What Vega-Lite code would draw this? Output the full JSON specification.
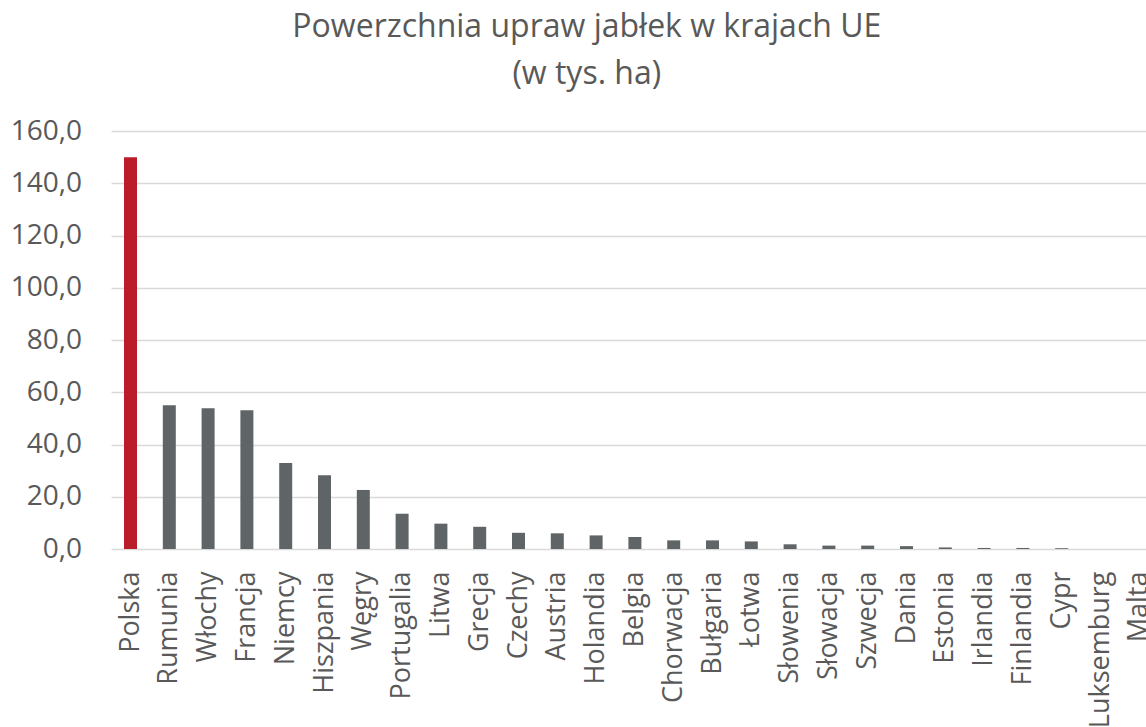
{
  "$schema": "https://vega.github.io/schema/vega-lite/v6.json",
  "autosize": {"type": "none"},
  "padding": {"left": 105.6, "top": 131, "right": 0, "bottom": 178},
  "width": 1040.4,
  "height": 418,
  "background": "white",
  "title": {
    "text": ["Powerzchnia upraw jabłek w krajach UE", "(w tys. ha)"],
    "anchor": "middle",
    "frame": "group",
    "dx": -39,
    "offset": 26,
    "font": "Open Sans",
    "fontSize": 32,
    "fontWeight": "normal",
    "color": "#595959",
    "lineHeight": 47
  },
  "data": {
    "values": [
      {"kraj": "Polska", "ha": 150.0},
      {"kraj": "Rumunia", "ha": 55.0},
      {"kraj": "Włochy", "ha": 53.9},
      {"kraj": "Francja", "ha": 53.1},
      {"kraj": "Niemcy", "ha": 32.9},
      {"kraj": "Hiszpania", "ha": 28.2},
      {"kraj": "Węgry", "ha": 22.6},
      {"kraj": "Portugalia", "ha": 13.5},
      {"kraj": "Litwa", "ha": 9.7},
      {"kraj": "Grecja", "ha": 8.5},
      {"kraj": "Czechy", "ha": 6.2},
      {"kraj": "Austria", "ha": 6.0},
      {"kraj": "Holandia", "ha": 5.2},
      {"kraj": "Belgia", "ha": 4.6},
      {"kraj": "Chorwacja", "ha": 3.3},
      {"kraj": "Bułgaria", "ha": 3.3},
      {"kraj": "Łotwa", "ha": 2.9},
      {"kraj": "Słowenia", "ha": 1.8},
      {"kraj": "Słowacja", "ha": 1.3},
      {"kraj": "Szwecja", "ha": 1.3},
      {"kraj": "Dania", "ha": 1.1},
      {"kraj": "Estonia", "ha": 0.6},
      {"kraj": "Irlandia", "ha": 0.4},
      {"kraj": "Finlandia", "ha": 0.4},
      {"kraj": "Cypr", "ha": 0.3},
      {"kraj": "Luksemburg", "ha": 0.0},
      {"kraj": "Malta", "ha": 0.0}
    ]
  },
  "mark": {"type": "bar"},
  "encoding": {
    "x": {
      "field": "kraj",
      "type": "nominal",
      "sort": null,
      "scale": {"paddingInner": 0.665, "paddingOuter": 0.3325, "range": [5.5, 1053.1]},
      "axis": {
        "title": null,
        "labelAngle": -90,
        "labelPadding": 22,
        "labelFont": "Open Sans",
        "labelFontSize": 27,
        "labelColor": "#595959",
        "ticks": false,
        "domain": false,
        "labelOverlap": false,
        "labelBound": false
      }
    },
    "y": {
      "field": "ha",
      "type": "quantitative",
      "scale": {"domain": [0, 160]},
      "axis": {
        "title": null,
        "values": [0, 20, 40, 60, 80, 100, 120, 140, 160],
        "labelExpr": "replace(format(datum.value, '.1f'), '.', ',')",
        "labelFont": "Open Sans",
        "labelFontSize": 28,
        "labelColor": "#595959",
        "labelPadding": 24,
        "ticks": false,
        "domain": false,
        "grid": true,
        "gridColor": "#d9d9d9",
        "gridWidth": 1.5
      }
    },
    "color": {
      "condition": {"test": "datum.kraj === 'Polska'", "value": "#BA1C2A"},
      "value": "#5F6466"
    }
  },
  "config": {"view": {"stroke": null}}
}
